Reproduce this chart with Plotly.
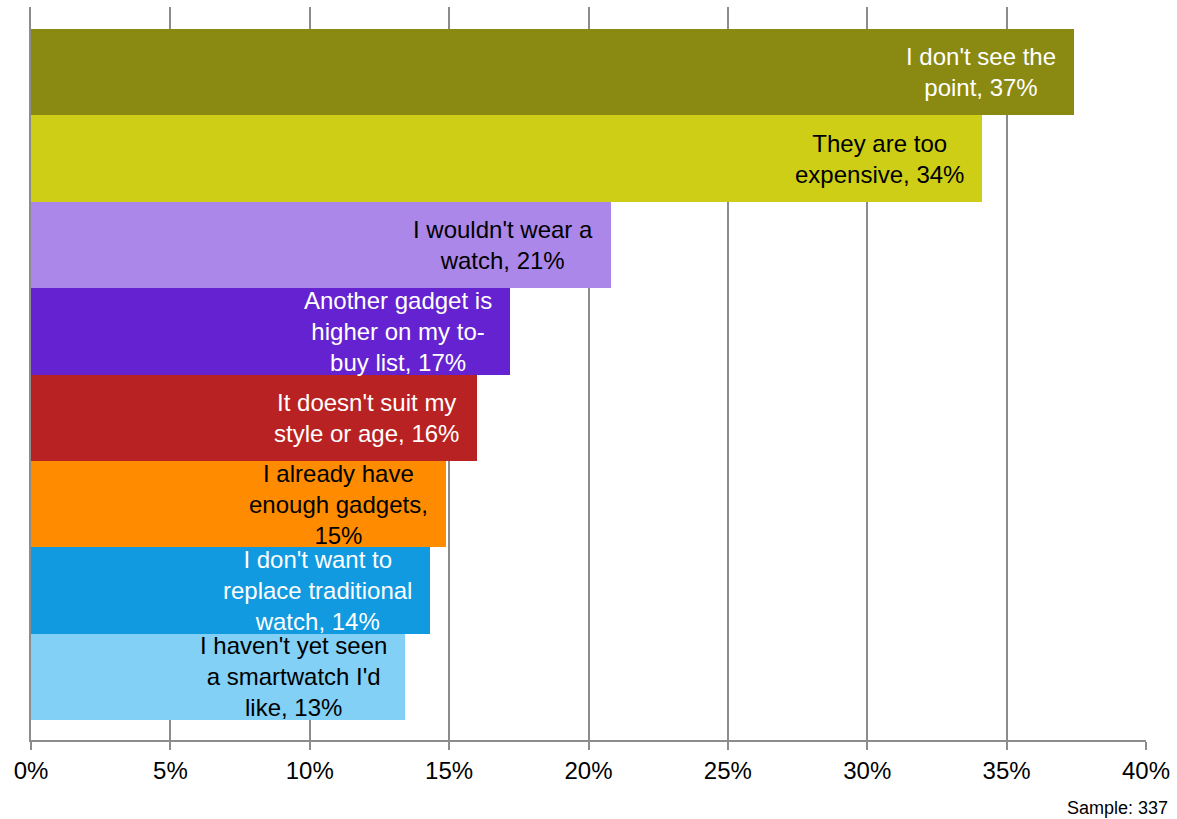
import plotly.graph_objects as go

# Reasons for not buying a smartwatch (share of respondents, %)
categories = [
    "I don't see the<br>point",
    "They are too<br>expensive",
    "I wouldn't wear a<br>watch",
    "Another gadget is<br>higher on my to-<br>buy list",
    "It doesn't suit my<br>style or age",
    "I already have<br>enough gadgets",
    "I don't want to<br>replace traditional<br>watch",
    "I haven't yet seen<br>a smartwatch I'd<br>like",
]
values = [37.4, 34.1, 20.8, 17.2, 16.0, 14.9, 14.3, 13.4]
label_joins = [", ", ", ", ", ", ", ", ", ", ",<br>", ", ", ", "]
bar_colors = ["#8A8A12", "#CECE16", "#AC87EA", "#6422D0",
              "#B92222", "#FF8C00", "#119AE0", "#82D0F5"]
text_colors = ["white", "black", "black", "white",
               "white", "black", "white", "black"]
tick_vals = [0, 5, 10, 15, 20, 25, 30, 35, 40]
tick_text = ["0%", "5%", "10%", "15%", "20%", "25%", "30%", "35%", "40%"]
sample_note = "Sample: 337"

FONT = "Liberation Sans, Arial, sans-serif"
GRID = "#8C8C8C"

positions = list(range(len(categories)))

fig = go.Figure(
    go.Bar(
        x=values,
        y=positions,
        orientation="h",
        marker=dict(color=bar_colors, line=dict(width=0)),
        width=1.0,
        hoverinfo="skip",
    )
)

annotations = []
for pos, cat, join, v, tc in zip(positions, categories, label_joins, values, text_colors):
    annotations.append(dict(
        x=v, y=pos, xref="x", yref="y",
        text=f"{cat}{join}{round(v)}%",
        showarrow=False, xanchor="right", yanchor="middle",
        align="center", xshift=-16,
        font=dict(family=FONT, size=24, color=tc),
    ))

annotations.append(dict(
    x=1, y=0, xref="paper", yref="paper",
    text=sample_note, showarrow=False,
    xanchor="right", yanchor="middle", xshift=24, yshift=-68,
    font=dict(family=FONT, size=18, color="black"),
))

fig.update_layout(
    width=1177, height=819,
    margin=dict(l=31, r=28, t=7, b=79),
    paper_bgcolor="white", plot_bgcolor="white",
    showlegend=False,
    bargap=0,
    annotations=annotations,
    xaxis=dict(
        range=[0, 40],
        tickvals=tick_vals, ticktext=tick_text,
        showgrid=True, gridcolor=GRID, gridwidth=2,
        zeroline=False,
        showline=True, linecolor=GRID, linewidth=2,
        ticks="outside", ticklen=8, tickwidth=2, tickcolor=GRID,
        tickfont=dict(family=FONT, size=24, color="black"),
        fixedrange=True,
    ),
    yaxis=dict(
        range=[7.73, -0.755],
        showticklabels=False, showgrid=False, zeroline=False,
        showline=True, linecolor=GRID, linewidth=2,
        ticks="",
        fixedrange=True,
    ),
)

fig.write_html("out.html")
